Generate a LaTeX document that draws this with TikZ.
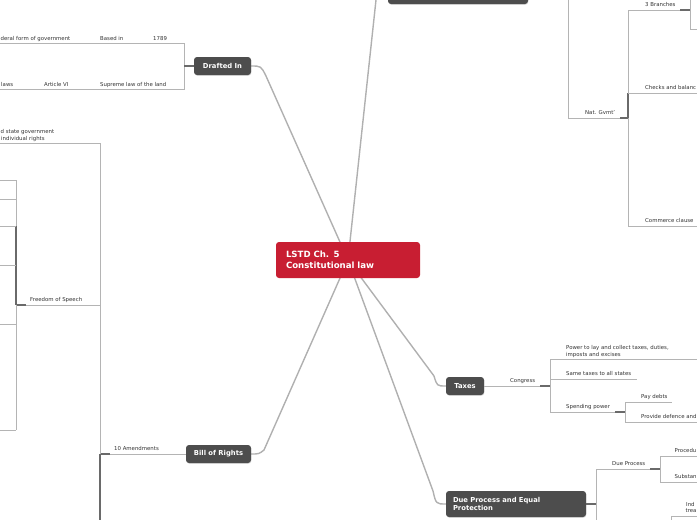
\documentclass[tikz,border=0pt]{standalone}
\usepackage{fontspec}
\setmainfont{DejaVu Sans}
\usetikzlibrary{shadows}
\definecolor{nodegray}{HTML}{4D4D4D}
\definecolor{centralred}{HTML}{C81E32}
\definecolor{conn}{HTML}{B0B0B0}
\definecolor{subl}{HTML}{B4B4B4}
\definecolor{stubc}{HTML}{6A6A6A}
\definecolor{txt}{HTML}{333333}
\begin{document}
\begin{tikzpicture}[x=1pt,y=-1pt,
  mainnode/.style={fill=nodegray, rounded corners=3pt, text=white, inner sep=0pt,
    font=\bfseries\fontsize{6.8}{8.3}\selectfont,
    drop shadow={opacity=0.25, shadow xshift=0.4pt, shadow yshift=-0.8pt}},
  centralnode/.style={fill=centralred, rounded corners=3pt, text=white, inner xsep=10pt, inner ysep=0pt,
    font=\bfseries\fontsize{8.6}{11}\selectfont, align=left, text width=124pt},
  lbl/.style={text=txt, font=\fontsize{5.4}{7}\selectfont, inner sep=0pt, anchor=base west},
  mainconn/.style={draw=conn, line width=1.4pt},
  subline/.style={draw=subl, line width=0.9pt},
  stubline/.style={draw=stubc, line width=1.3pt}]
\useasboundingbox (0,0) rectangle (697,520);
\clip (0,0) rectangle (697,520);

\coordinate (cc) at (348,260);

% main connectors
\draw[mainconn] (cc) -- (266,76) .. controls (261,66) .. (251,66) coordinate (draftedE);
\draw[mainconn] (cc) -- (376,0) .. controls (378,-10) .. (388,-10) coordinate (topW);
\draw[mainconn] (cc) -- (434,376) .. controls (437,386) .. (446,386) coordinate (taxesW);
\draw[mainconn] (cc) -- (433,491) .. controls (436,504) .. (446,504) coordinate (dueW);
\draw[mainconn] (cc) -- (264,450) .. controls (259,454) .. (251,454) coordinate (billE);

\node[centralnode, minimum width=144pt, minimum height=36pt] (center) at (348,260) {LSTD Ch. 5\\Constitutional law};
\node[mainnode, minimum width=57pt, minimum height=18pt] (drafted) at (222.5,66) {Drafted In};
\node[mainnode, minimum width=140pt, minimum height=28pt] (topn) at (458,-10) {};
\node[mainnode, minimum width=38pt, minimum height=18pt] (taxes) at (465,386) {Taxes};
\node[mainnode, minimum width=65pt, minimum height=18pt] (bill) at (218.5,454) {Bill of Rights};
\node[mainnode, minimum width=140pt, minimum height=26pt, inner xsep=7pt, text width=126pt, align=left] (due) at (516,504) {Due Process and Equal\\Protection};

% ---------- Drafted In subtree ----------
\coordinate (dA) at (184,66);
\draw[subline] (0,43) -- (184,43) -- (184,89) -- (0,89);
\draw[stubline] (drafted.west) -- (dA);
\node[lbl] (d1789) at (153,40.5) {1789};
\node[lbl] (dbased) at (100,40.5) {Based in};
\node[lbl] (dfed) at (0.5,40.5) {deral form of government};
\node[lbl] (dsup) at (100,86.5) {Supreme law of the land};
\node[lbl] (dart) at (44,86.5) {Article VI};
\node[lbl] (dlaws) at (1,86.5) {laws};

% ---------- Bill of Rights subtree ----------
\coordinate (bA) at (100,454);
\draw[subline] (bill.west) -- (bA);
\draw[stubline] (110,454) -- (bA);
\draw[subline] (0,143) -- (100,143) -- (bA);
\draw[stubline] (bA) -- (100,522);
\node[lbl] (bamend) at (114,450.5) {10 Amendments};
\node[lbl] (bstate) at (0.5,133) {d state government};
\node[lbl] (bindiv) at (1,140) {individual rights};
\coordinate (fA) at (16,305);
\draw[subline] (100,305) -- (fA);
\draw[stubline] (26,305) -- (fA);
\node[lbl] (bfree) at (30,301.5) {Freedom of Speech};
\draw[subline] (16,180) -- (16,226);
\draw[stubline] (16,226) -- (fA);
\draw[subline] (fA) -- (16,430);
\foreach \yy in {180,199,226,265,324,430} \draw[subline] (0,\yy) -- (16,\yy);

% ---------- Top-right subtree ----------
\coordinate (nA) at (628,118);
\draw[subline] (568,0) -- (568,118) -- (nA);
\draw[stubline] (620,118) -- (nA);
\node[lbl] (ngov) at (585,114.5) {Nat. Gvmt'};
\draw[subline] (628,10) -- (628,93);
\draw[stubline] (628,93) -- (nA);
\draw[subline] (nA) -- (628,226) -- (699,226);
\draw[subline] (628,10) -- (690,10);
\draw[stubline] (680,10) -- (690,10);
\draw[subline] (690,-2) -- (690,29) -- (699,29);
\node[lbl] (nbr) at (645,6.5) {3 Branches};
\draw[subline] (628,93) -- (699,93);
\node[lbl] (ncheck) at (645,89.5) {Checks and balanc};
\node[lbl] (ncomm) at (645,222.5) {Commerce clause};

% ---------- Taxes subtree ----------
\coordinate (tA) at (550,386);
\draw[subline] (taxes.east) -- (tA);
\draw[stubline] (540,386) -- (tA);
\node[lbl] (tcong) at (510,382.5) {Congress};
\draw[subline] (550,359) -- (550,412);
\draw[subline] (550,359) -- (699,359);
\node[lbl] (tpow1) at (566,349.5) {Power to lay and collect taxes, duties,};
\node[lbl] (tpow2) at (566,356.5) {imposts and excises};
\draw[subline] (550,379) -- (637,379);
\node[lbl] (tsame) at (566,375.5) {Same taxes to all states};
\coordinate (sA) at (625,412);
\draw[subline] (550,412) -- (sA);
\draw[stubline] (615,412) -- (sA);
\node[lbl] (tspend) at (566,408.5) {Spending power};
\draw[subline] (625,402) -- (625,422);
\draw[subline] (625,402) -- (672,402);
\node[lbl] (tpay) at (641,398.5) {Pay debts};
\draw[subline] (625,422) -- (699,422);
\node[lbl] (tprov) at (641,418.5) {Provide defence and};

% ---------- Due Process subtree ----------
\coordinate (uA) at (596,504);
\draw[stubline] (due.east) -- (uA);
\draw[subline] (596,469) -- (596,522);
\coordinate (pA) at (660,469);
\draw[subline] (596,469) -- (pA);
\draw[stubline] (650,469) -- (pA);
\node[lbl] (udue) at (612,465.5) {Due Process};
\draw[subline] (660,456) -- (660,482);
\draw[subline] (660,456) -- (699,456);
\draw[subline] (660,482) -- (699,482);
\node[lbl] (uproc) at (674.5,452.5) {Procedu};
\node[lbl] (usubs) at (674.5,478.5) {Substan};
\node[lbl] (uind) at (686,506) {Ind};
\node[lbl] (utrea) at (685.5,512.5) {trea};
\draw[subline] (671,522) -- (671,516.5) -- (699,516.5);
\end{tikzpicture}
\end{document}
